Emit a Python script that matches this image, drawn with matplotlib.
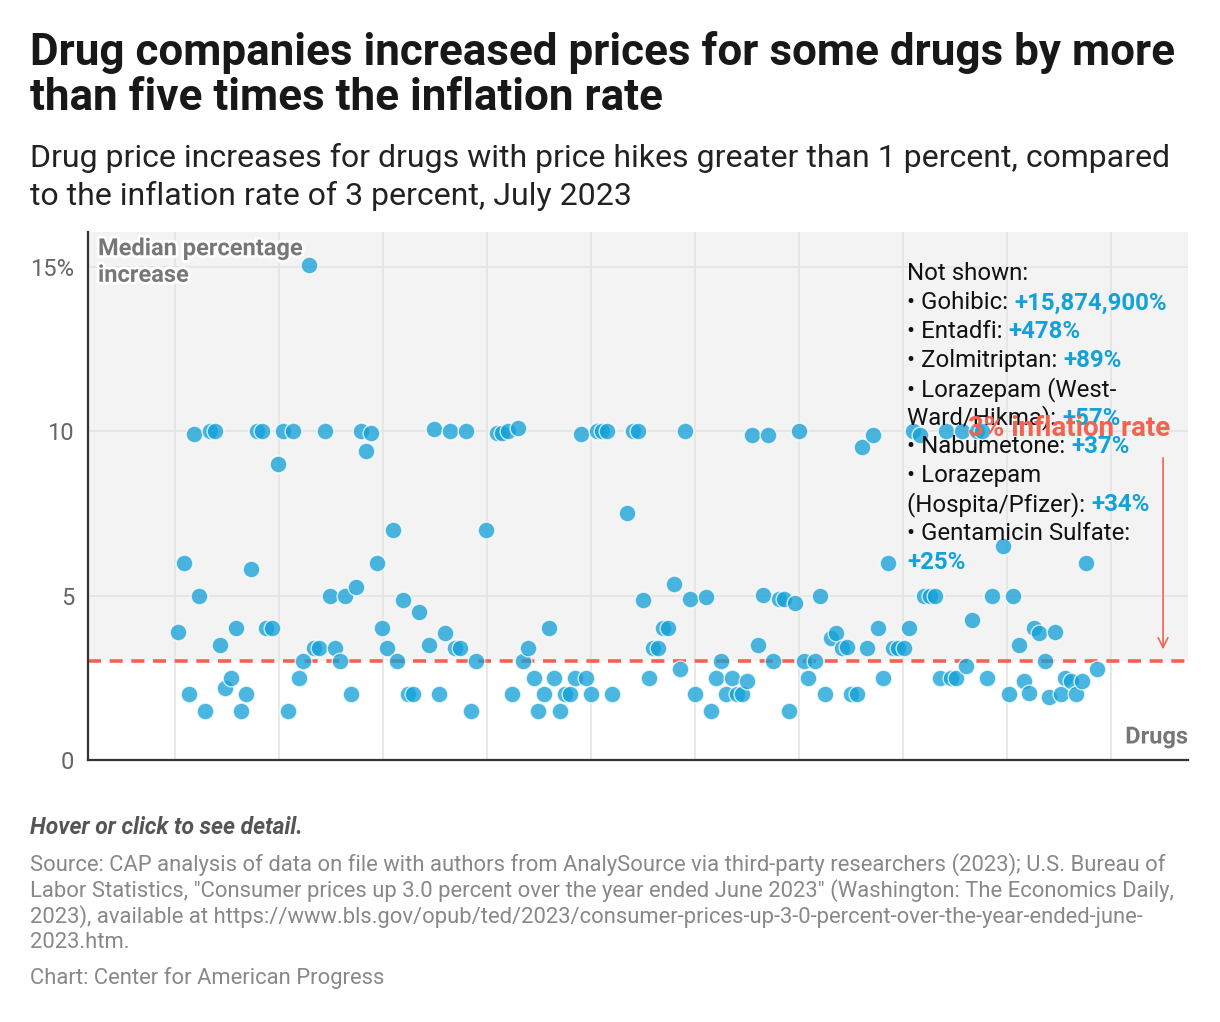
import matplotlib
matplotlib.use("Agg")
from matplotlib import pyplot as plt
import matplotlib.patheffects as pe

W, H = 1220, 1022
plt.rcParams['font.family'] = ['Roboto', 'DejaVu Sans']

# drug position (rank) and median percentage increase
drug_pos = [0.7, 1.7, 2.7, 3.7, 4.7, 5.7, 6.7, 7.7, 8.7, 9.7,
            10.8, 11.7, 12.8, 13.7, 14.7, 15.7, 16.7, 17.6, 18.7, 19.8,
            20.7, 21.8, 22.8, 23.8, 24.7, 25.8, 26.7, 27.8, 28.8, 29.8,
            30.8, 31.8, 32.8, 33.8, 34.8, 35.8, 36.8, 37.8, 38.8, 39.8,
            40.8, 41.9, 42.8, 43.8, 44.8, 45.8, 46.9, 48.9, 49.9, 50.8,
            51.9, 52.9, 53.8, 54.9, 55.9, 56.9, 57.9, 59.9, 61.9, 62.9,
            64.0, 64.9, 66.0, 67.0, 67.9, 69.0, 69.9, 71.0, 71.9, 72.9,
            74.0, 75.0, 76.0, 76.9, 78.0, 79.0, 80.0, 81.1, 82.1, 83.0,
            84.0, 87.0, 88.0, 89.0, 90.0, 91.1, 91.9, 92.9, 93.9, 94.9,
            96.0, 97.1, 98.0, 99.0, 100.0, 102.1, 103.1, 104.0, 105.1, 106.0,
            107.1, 108.0, 109.0, 110.1, 111.0, 112.2, 113.1, 114.1, 115.1, 116.1,
            117.2, 118.1, 119.2, 120.1, 121.0, 121.8, 123.1, 124.1, 125.1, 126.1,
            127.1, 128.2, 129.2, 130.1, 131.2, 132.2, 133.1, 134.2, 135.1, 136.2,
            137.2, 138.0, 139.0, 140.1, 141.2, 142.0, 143.3, 144.1, 145.1, 146.2,
            147.1, 148.2, 149.2, 150.2, 151.3, 152.1, 153.2, 154.2, 155.2, 156.2,
            157.2, 159.2, 160.3, 161.2, 162.3, 163.3, 164.2, 165.2, 166.2, 167.3,
            168.1, 169.2, 170.3, 171.2, 172.3, 173.2, 174.4, 175.2, 177.3]
pct_increase = [3.9, 6.0, 2.0, 9.9, 5.0, 1.5, 10.0, 10.0, 3.5, 2.2,
                2.5, 4.0, 1.5, 2.0, 5.8, 10.0, 10.0, 4.0, 4.0, 9.0,
                10.0, 1.5, 10.0, 2.5, 3.0, 15.05, 3.4, 3.4, 10.0, 5.0,
                3.4, 3.0, 5.0, 2.0, 5.25, 10.0, 9.4, 9.95, 6.0, 4.0,
                3.4, 7.0, 3.0, 4.85, 2.0, 2.0, 4.5, 3.5, 10.05, 2.0,
                3.85, 10.0, 3.4, 3.4, 10.0, 1.5, 3.0, 7.0, 9.93, 9.93,
                10.0, 2.0, 10.1, 3.0, 3.4, 2.5, 1.5, 2.0, 4.0, 2.5,
                1.5, 2.0, 2.0, 2.5, 9.9, 2.5, 2.0, 10.0, 10.0, 10.0,
                2.0, 7.5, 10.0, 10.0, 4.86, 2.5, 3.4, 3.4, 4.0, 4.0,
                5.35, 2.76, 10.0, 4.9, 2.0, 4.95, 1.5, 2.5, 3.0, 2.0,
                2.5, 2.0, 2.0, 2.4, 9.88, 3.5, 5.03, 9.88, 3.0, 4.9,
                4.9, 1.5, 4.78, 10.0, 3.0, 2.5, 3.0, 5.0, 2.0, 3.7,
                3.86, 3.4, 3.45, 2.0, 2.0, 9.5, 3.4, 9.88, 4.0, 2.5,
                6.0, 3.4, 3.4, 3.4, 4.0, 10.0, 9.88, 5.0, 5.0, 5.0,
                2.5, 10.0, 2.5, 2.5, 10.0, 2.85, 4.27, 10.0, 10.0, 2.5,
                5.0, 6.5, 2.0, 5.0, 3.5, 2.4, 2.04, 4.0, 3.86, 3.0,
                1.9, 3.9, 2.0, 2.5, 2.4, 2.0, 2.4, 6.0, 2.76]

inflation = 3.0
y_ticks = [0, 5, 10, 15]
y_labels = ['0', '5', '10', '15%']

# (plain part, bold blue part)
not_shown = [("Not shown:", ""),
             ("\u2022 Gohibic: ", "+15,874,900%"),
             ("\u2022 Entadfi: ", "+478%"),
             ("\u2022 Zolmitriptan: ", "+89%"),
             ("\u2022 Lorazepam (West-", ""),
             ("Ward/Hikma): ", "+57%"),
             ("\u2022 Nabumetone: ", "+37%"),
             ("\u2022 Lorazepam", ""),
             ("(Hospita/Pfizer): ", "+34%"),
             ("\u2022 Gentamicin Sulfate:", ""),
             ("", "+25%")]

title = "Drug companies increased prices for some drugs by more\nthan five times the inflation rate"
subtitle = ("Drug price increases for drugs with price hikes greater than 1 percent, compared\n"
            "to the inflation rate of 3 percent, July 2023")
source = ['Source: CAP analysis of data on file with authors from AnalySource via third-party researchers (2023); U.S. Bureau of',
          'Labor Statistics, "Consumer prices up 3.0 percent over the year ended June 2023" (Washington: The Economics Daily,',
          '2023), available at https://www.bls.gov/opub/ted/2023/consumer-prices-up-3-0-percent-over-the-year-ended-june-',
          '2023.htm.']

BLUE = '#12a1d8'
RED = '#f26452'
GRAY_TXT = '#777777'


def fx(px):
    return px / W


def fy(py):
    return 1 - py / H


fig = plt.figure(figsize=(W / 100, H / 100), dpi=100)
ax = fig.add_axes([fx(88), fy(760), fx(1188) - fx(88), fy(232) - fy(760)])

ymax = 16.05
ax.set_xlim(-16.7, 194.8)
ax.set_ylim(0, ymax)
ax.set_facecolor('white')
ax.axhspan(inflation, ymax, color='#f3f3f3', zorder=0, lw=0)

ax.set_xticks(range(0, 181, 20))
ax.set_xticklabels([])
ax.set_yticks(y_ticks)
ax.set_yticklabels(y_labels)
ax.tick_params(length=0, labelsize=17, labelcolor='#666666', pad=10)
ax.grid(True, color='#e4e4e4', lw=1.2, zorder=1)
ax.set_axisbelow(True)
for s in ['top', 'right']:
    ax.spines[s].set_visible(False)
ax.spines['left'].set_color('#333333')
ax.spines['bottom'].set_color('#333333')
ax.spines['left'].set_linewidth(1.6)
ax.spines['bottom'].set_linewidth(1.6)

ax.axhline(inflation, color=RED, lw=2.6, dashes=(3.6, 2.4), zorder=2)

ax.scatter(drug_pos, pct_increase, s=145, color=BLUE, alpha=0.76,
           edgecolors='white', linewidths=1.0, zorder=3)

# axis labels inside plot
halo = [pe.withStroke(linewidth=4, foreground='white')]
fig.text(fx(98), fy(262), "Median percentage\nincrease", ha='left', va='center',
         fontsize=17, fontweight='bold', color=GRAY_TXT, linespacing=1.2,
         path_effects=halo, zorder=5)
fig.text(fx(1188), fy(737), "Drugs", ha='right', va='center', fontsize=17,
         fontweight='bold', color=GRAY_TXT, path_effects=halo)

# not shown block
renderer = fig.canvas.get_renderer()
x0 = 907
line_y = 274
for plain, bold in not_shown:
    xb = fx(x0)
    if plain:
        t = fig.text(fx(x0), fy(line_y), plain, ha='left', va='center',
                     fontsize=17.3, color='#111111', zorder=6)
        bb = t.get_window_extent(renderer=renderer)
        xb = bb.x1 / W
    if bold:
        fig.text(xb, fy(line_y), bold, ha='left', va='center', fontsize=17.3,
                 fontweight='bold', color=BLUE, zorder=6)
    line_y += 28.8

# inflation annotation
fig.text(fx(968), fy(428), "3% inflation rate", ha='left', va='center',
         fontsize=20, fontweight='bold', color=RED, zorder=7)
ax.annotate("", xy=(190, inflation + 0.28), xytext=(190, 9.27),
            arrowprops=dict(arrowstyle='->,head_length=0.7,head_width=0.35',
                            color=RED, lw=1.2), zorder=7)

# title and subtitle
fig.text(fx(30), fy(75), title, ha='left', va='center', fontsize=31.7,
         fontweight='bold', color='#181818', linespacing=1.09)
fig.text(fx(30), fy(177), subtitle, ha='left', va='center', fontsize=23,
         color='#222222', linespacing=1.3)

# footer
fig.text(fx(30), fy(828), "Hover or click to see detail.", ha='left', va='center',
         fontsize=16.5, fontweight='bold', style='italic', color='#555555')
sy = 865
for line in source:
    fig.text(fx(30), fy(sy), line, ha='left', va='center', fontsize=15.8,
             color='#888888')
    sy += 25.7
fig.text(fx(30), fy(978), "Chart: Center for American Progress", ha='left',
         va='center', fontsize=15.8, color='#888888')

fig.savefig("out.png", dpi=100)
